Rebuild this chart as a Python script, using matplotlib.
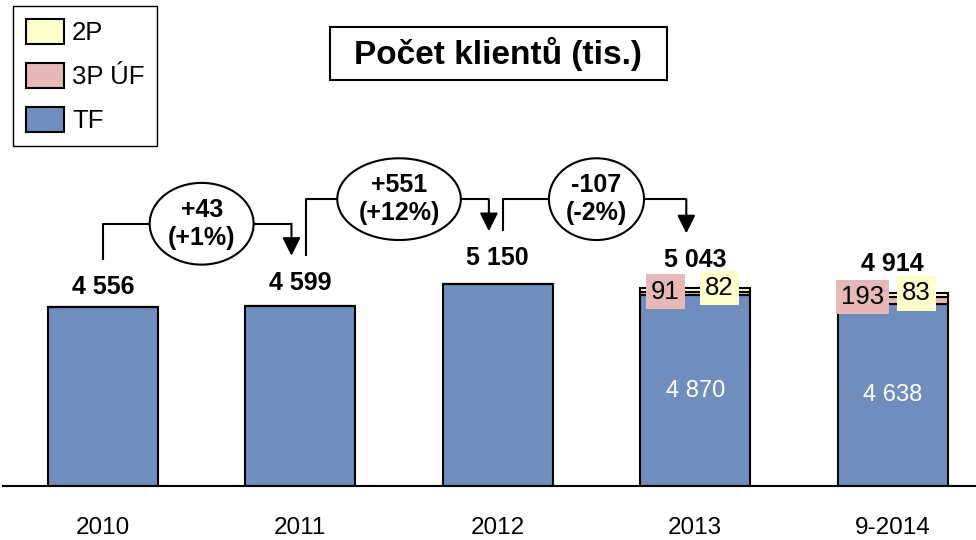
import numpy as np
import matplotlib
matplotlib.use("Agg")
import matplotlib.pyplot as plt
from matplotlib.patches import Patch, Rectangle

plt.rcParams['font.family'] = ['Liberation Sans', 'DejaVu Sans']

# data (tis. klientu)
years = ['2010', '2011', '2012', '2013', '9-2014']
tf = [4556, 4599, 5150, 4870, 4638]
p3_uf = [0, 0, 0, 91, 193]
p2 = [0, 0, 0, 82, 83]
changes = ['+43\n(+1%)', '+551\n(+12%)', '-107\n(-2%)']

c_tf = '#6F8DBD'
c_3p = '#E6B9B8'
c_2p = '#FFFFCC'

tf = np.array(tf)
p3_uf = np.array(p3_uf)
p2 = np.array(p2)
total = tf + p3_uf + p2

fig = plt.figure(figsize=(9.76, 5.4), dpi=100)
ax = fig.add_axes([0.003, 0.1, 0.997, 0.9])
ytop = 12400
ax.set_xlim(-0.5066, 4.4225)
ax.set_ylim(0, ytop)
upp = ytop / 486.0   # data units per pixel

x = np.arange(len(years))
w = 0.557
ax.bar(x, tf, w, color=c_tf, edgecolor='black', linewidth=1.5, zorder=2)
ax.bar(x, p3_uf, w, bottom=tf, color=c_3p, edgecolor='black', linewidth=1.5, zorder=2)
ax.bar(x, p2, w, bottom=tf + p3_uf, color=c_2p, edgecolor='black', linewidth=1.5, zorder=2)

for s in ['top', 'left', 'right']:
    ax.spines[s].set_visible(False)
ax.spines['bottom'].set_linewidth(1.5)
ax.set_yticks([])
ax.set_xticks(x)
ax.set_xticklabels(years, fontsize=17.5)
ax.tick_params(axis='x', length=0, pad=22)

# total labels above bars
gaps = [8, 11, 14, 16, 17]
for i in range(len(years)):
    ax.annotate(f'{total[i]:,}'.replace(',', ' '), (x[i], total[i]),
                xytext=(0, gaps[i] * 0.72), textcoords='offset points',
                ha='center', va='bottom', fontsize=18, fontweight='bold')

# labels inside stacked bars
for i in range(len(years)):
    if p3_uf[i] > 0:
        ax.text(x[i], tf[i] / 2, f'{tf[i]:,}'.replace(',', ' '), ha='center', va='center',
                color='white', fontsize=17)
        ax.text(x[i] - 30 / 197.4, tf[i] + p3_uf[i], str(p3_uf[i]), ha='center', va='center',
                fontsize=18.5, zorder=5,
                bbox=dict(boxstyle='square,pad=0.2', fc=c_3p, ec='none'))
        ax.text(x[i] + 24 / 197.4, total[i], str(p2[i]), ha='center', va='center',
                fontsize=18.5, zorder=5,
                bbox=dict(boxstyle='square,pad=0.2', fc=c_2p, ec='none'))

# change brackets between years
for i in range(len(changes)):
    y0 = total[i] + (gaps[i] + 39) * upp
    y1 = total[i + 1] + (gaps[i + 1] + 39) * upp
    lvl = max(y0, y1) + 32 * upp
    xa = x[i] + (0 if i == 0 else 0.028)
    xb = x[i + 1] - 0.045
    ax.plot([xa, xa, xb], [y0, lvl, lvl], color='black', lw=1.5, solid_capstyle='butt', zorder=3)
    ax.annotate('', xy=(xb, y1), xytext=(xb, lvl),
                arrowprops=dict(arrowstyle='-|>,head_length=11,head_width=5.5', mutation_scale=1,
                                color='black', lw=1.5, shrinkA=0, shrinkB=0), zorder=3)
    ax.text((x[i] + x[i + 1]) / 2, lvl, changes[i], ha='center', va='center',
            fontsize=18, fontweight='bold', linespacing=1.2, zorder=4,
            bbox=dict(boxstyle='ellipse,pad=0.12', fc='white', ec='black', lw=1.5))

# title box
fig.patches.append(Rectangle((330 / 976, 1 - 80 / 540), 337 / 976, 53 / 540,
                             transform=fig.transFigure, fc='white', ec='black', lw=1.5))
fig.text(498 / 976, 1 - 54 / 540, 'Počet klientů (tis.)', ha='center', va='center',
         fontsize=24, fontweight='bold')

handles = [Patch(fc=c_2p, ec='black', lw=1.5),
           Patch(fc=c_3p, ec='black', lw=1.5),
           Patch(fc=c_tf, ec='black', lw=1.5)]
leg = fig.legend(handles, ['2P', '3P ÚF', 'TF'], loc='upper left',
                 bbox_to_anchor=(13 / 976, 1 - 6 / 540), fontsize=18.5, frameon=True,
                 fancybox=False, edgecolor='black', framealpha=1,
                 handlelength=1.5, handleheight=1.1, handletextpad=0.3,
                 labelspacing=0.7, borderpad=0.5, borderaxespad=0)
leg.get_frame().set_linewidth(1.0)

fig.savefig('out.png', dpi=100)
